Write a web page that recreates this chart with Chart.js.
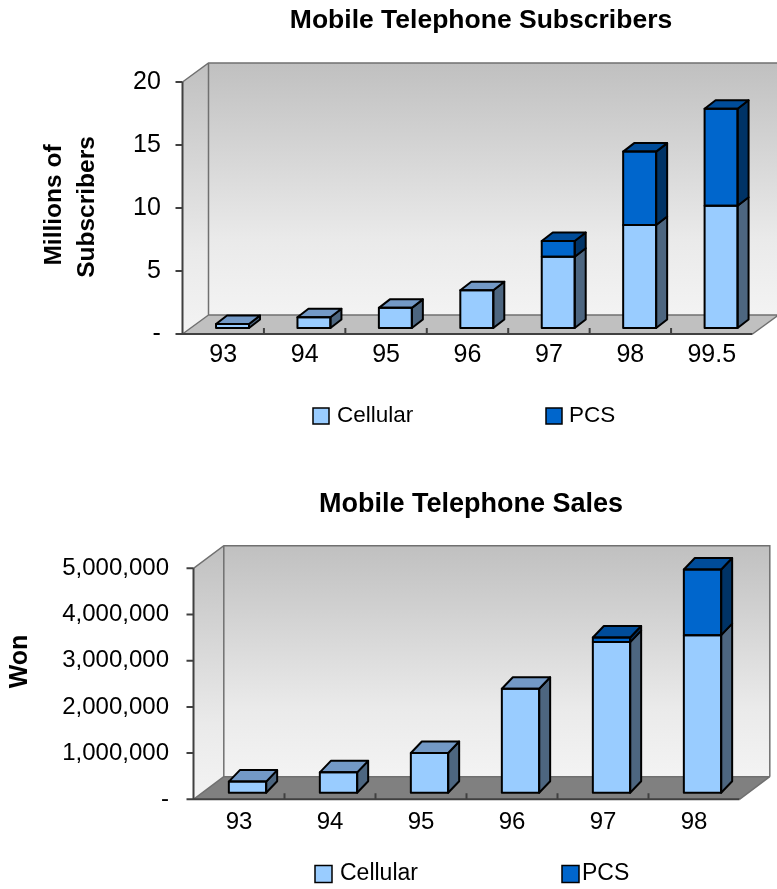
<!DOCTYPE html>
<html><head><meta charset="utf-8">
<script src="https://cdn.jsdelivr.net/npm/chart.js@4.4.1/dist/chart.umd.min.js"></script>
<style>
html,body{margin:0;padding:0;background:#fff;overflow:hidden;width:777px;height:889px;}
canvas{position:absolute;left:0;display:block;}
#c1{top:0}
#c2{top:445px}
</style></head><body>
<canvas id="c1" width="777" height="445"></canvas>
<canvas id="c2" width="777" height="444"></canvas>
<script>
// ---------- data ----------
const subsCategories = ['93', '94', '95', '96', '97', '98', '99.5'];
const subsCellular = [0.32, 0.85, 1.6, 3.0, 5.66, 8.17, 9.7];
const subsPCS = [0, 0, 0, 0, 1.24, 5.83, 7.7];
const subsTickMax = 20;
const subsTickStep = 5;

const salesCategories = ['93', '94', '95', '96', '97', '98'];
const salesCellular = [240000, 440000, 860000, 2250000, 3260000, 3410000];
const salesPCS = [0, 0, 0, 0, 100000, 1420000];
const salesTickMax = 5000000;
const salesTickStep = 1000000;

const seriesNames = ['Cellular', 'PCS'];

// ---------- styling ----------
const FONT = '"Liberation Sans", Arial, Helvetica, sans-serif';
const faceColors = [
  { front: '#99CCFF', top: '#7399C6', side: '#4D6680' },
  { front: '#0066CC', top: '#004C99', side: '#003366' }
];

const threeD = {
  id: 'threeD',
  beforeDatasetsDraw(chart, args, o) {
    const ctx = chart.ctx;
    const xs = chart.scales.x, ys = chart.scales.y;
    const ca = chart.chartArea;
    const T = ys.getPixelForValue(ys.max), B = ys.getPixelForValue(0);
    const fL = ca.left + o.front.dx, fR = ca.right + o.front.dx;
    const fT = T + o.front.dy, fB = B + o.front.dy;
    const bL = fL + o.floor.dx, bR = fR + o.floor.dx;
    const bT = fT + o.floor.dy, bB = fB + o.floor.dy;
    ctx.save();
    // back wall
    let g = ctx.createLinearGradient(0, bT, 0, bB);
    g.addColorStop(0, '#C0C0C0'); g.addColorStop(0.7, '#EAEAEA'); g.addColorStop(1, '#F3F3F3');
    ctx.fillStyle = g;
    ctx.fillRect(bL, bT, bR - bL, bB - bT);
    // left wall
    g = ctx.createLinearGradient(0, bT, 0, fB);
    g.addColorStop(0, '#C0C0C0'); g.addColorStop(0.7, '#EAEAEA'); g.addColorStop(1, '#F3F3F3');
    ctx.fillStyle = g;
    ctx.beginPath();
    ctx.moveTo(fL, fT); ctx.lineTo(bL, bT); ctx.lineTo(bL, bB); ctx.lineTo(fL, fB); ctx.closePath();
    ctx.fill();
    // floor
    ctx.fillStyle = o.floorColor;
    ctx.beginPath();
    ctx.moveTo(fL, fB); ctx.lineTo(bL, bB); ctx.lineTo(bR, bB); ctx.lineTo(fR, fB); ctx.closePath();
    ctx.fill();
    // edges
    ctx.strokeStyle = '#707070'; ctx.lineWidth = 1.5;
    ctx.beginPath();
    ctx.moveTo(fL, fT); ctx.lineTo(bL, bT); ctx.lineTo(bR, bT); ctx.lineTo(bR, bB);
    ctx.moveTo(bL, bT); ctx.lineTo(bL, bB); ctx.lineTo(bR, bB);
    ctx.moveTo(fL, fB); ctx.lineTo(bL, bB);
    ctx.moveTo(fR, fB); ctx.lineTo(bR, bB);
    ctx.stroke();
    ctx.strokeStyle = '#404040'; ctx.lineWidth = 2;
    ctx.beginPath();
    ctx.moveTo(fL, fT); ctx.lineTo(fL, fB); ctx.lineTo(fR, fB);
    // y ticks
    ys.ticks.forEach(t => {
      const py = ys.getPixelForValue(t.value) + o.front.dy;
      ctx.moveTo(fL - 7, py); ctx.lineTo(fL, py);
    });
    // x ticks at category boundaries
    for (let i = 1; i < xs.ticks.length; i++) {
      const px = (xs.getPixelForTick(i - 1) + xs.getPixelForTick(i)) / 2 + o.front.dx;
      ctx.moveTo(px, fB); ctx.lineTo(px, fB - 6);
    }
    ctx.stroke();
    ctx.restore();
  },
  afterDatasetsDraw(chart, args, o) {
    const ctx = chart.ctx;
    const n = chart.data.labels.length;
    const metas = chart.data.datasets.map((d, i) => chart.getDatasetMeta(i));
    ctx.save();
    ctx.lineJoin = 'round';
    ctx.strokeStyle = '#000'; ctx.lineWidth = 2;
    for (let i = 0; i < n; i++) {
      let topIdx = -1;
      chart.data.datasets.forEach((d, k) => { if (d.data[i] > 0) topIdx = k; });
      chart.data.datasets.forEach((d, k) => {
        if (!(d.data[i] > 0)) return;
        const el = metas[k].data[i];
        const w = el.width, l = el.x - w / 2, r = el.x + w / 2, y = el.y, b = el.base;
        const c = faceColors[k];
        // side
        ctx.fillStyle = c.side;
        ctx.beginPath();
        ctx.moveTo(r, y); ctx.lineTo(r + o.bar.dx, y + o.bar.dy);
        ctx.lineTo(r + o.bar.dx, b + o.bar.dy); ctx.lineTo(r, b); ctx.closePath();
        ctx.fill(); ctx.stroke();
        if (k === topIdx) {
          ctx.fillStyle = c.top;
          ctx.beginPath();
          ctx.moveTo(l, y); ctx.lineTo(l + o.bar.dx, y + o.bar.dy);
          ctx.lineTo(r + o.bar.dx, y + o.bar.dy); ctx.lineTo(r, y); ctx.closePath();
          ctx.fill(); ctx.stroke();
        }
        ctx.strokeRect(l, y, w, b - y);
      });
    }
    ctx.restore();
  },
  afterDraw(chart, args, o) {
    const ctx = chart.ctx;
    ctx.save();
    ctx.fillStyle = '#000';
    ctx.textAlign = 'center'; ctx.textBaseline = 'middle';
    ctx.font = 'bold ' + o.titleSize + 'px ' + FONT;
    ctx.fillText(o.title, o.titleX, o.titleY);
    // y title
    ctx.font = 'bold ' + o.yTitleSize + 'px ' + FONT;
    o.yTitle.forEach(t => {
      ctx.save();
      ctx.translate(t.x, t.y);
      ctx.rotate(-Math.PI / 2);
      ctx.fillText(t.text, 0, 0);
      ctx.restore();
    });
    // legend
    ctx.font = o.legendSize + 'px ' + FONT;
    ctx.textAlign = 'left';
    o.legend.forEach((it, k) => {
      ctx.fillStyle = faceColors[k].front;
      ctx.fillRect(it.bx, o.legendY - it.bs / 2, it.bs, it.bs);
      ctx.strokeStyle = '#000'; ctx.lineWidth = 1.5;
      ctx.strokeRect(it.bx, o.legendY - it.bs / 2, it.bs, it.bs);
      ctx.fillStyle = '#000';
      ctx.fillText(seriesNames[k], it.tx, o.legendY);
    });
    ctx.restore();
  }
};

function makeChart(id, H, cats, cell, pcs, yMax, yStep, fmt, g) {
  const W = 777;
  return new Chart(document.getElementById(id), {
    type: 'bar',
    data: {
      labels: cats,
      datasets: [
        { label: seriesNames[0], data: cell, backgroundColor: faceColors[0].front, borderWidth: 0 },
        { label: seriesNames[1], data: pcs, backgroundColor: faceColors[1].front, borderWidth: 0 }
      ]
    },
    options: {
      responsive: false,
      animation: false,
      devicePixelRatio: 1,
      layout: { padding: { left: 0, right: W - g.plane.right, top: g.plane.top, bottom: 0 } },
      datasets: { bar: { barPercentage: g.barPct, categoryPercentage: 1 } },
      plugins: {
        legend: { display: false },
        title: { display: false },
        tooltip: { enabled: false },
        threeD: g
      },
      scales: {
        x: {
          stacked: true,
          grid: { display: false, drawTicks: false },
          border: { display: false },
          ticks: { color: '#000', font: { family: FONT, size: g.tickSize }, padding: g.xPad, labelOffset: g.front.dx, maxRotation: 0 },
          afterFit: s => { s.height = H - g.plane.bottom; }
        },
        y: {
          stacked: true,
          min: 0, max: yMax,
          grid: { display: false, drawTicks: false },
          border: { display: false },
          ticks: { stepSize: yStep, color: '#000', font: { family: FONT, size: g.tickSize }, padding: g.yPad, labelOffset: g.front.dy, callback: fmt },
          afterFit: s => { s.width = g.plane.left; }
        }
      }
    },
    plugins: [threeD]
  });
}

makeChart('c1', 445, subsCategories, subsCellular, subsPCS, subsTickMax, subsTickStep,
  v => v === 0 ? '-' : String(v),
  {
    plane: { left: 191.8, right: 761.8, top: 76, bottom: 328 },
    front: { dx: -9.3, dy: 6 }, floor: { dx: 26, dy: -19 }, bar: { dx: 11, dy: -8.5 },
    barPct: 0.405, floorColor: '#C0C0C0',
    tickSize: 25, xPad: 12, yPad: 31,
    title: 'Mobile Telephone Subscribers', titleX: 481, titleY: 21, titleSize: 26.5,
    yTitle: [{ text: 'Millions of', x: 54, y: 205 }, { text: 'Subscribers', x: 87, y: 207 }], yTitleSize: 24.5,
    legendY: 416, legendSize: 22.5,
    legend: [{ bx: 313, bs: 16, tx: 337 }, { bx: 546, bs: 16, tx: 569 }]
  });

makeChart('c2', 444, salesCategories, salesCellular, salesPCS, salesTickMax, salesTickStep,
  v => v === 0 ? '-' : v.toLocaleString('en-US'),
  {
    plane: { left: 202, right: 748, top: 116.7, bottom: 347.7 },
    front: { dx: -8.5, dy: 6.6 }, floor: { dx: 30.3, dy: -22.6 }, bar: { dx: 11, dy: -11.5 },
    barPct: 0.41, floorColor: '#808080',
    tickSize: 24, xPad: 15, yPad: 33,
    title: 'Mobile Telephone Sales', titleX: 471, titleY: 60, titleSize: 27,
    yTitle: [{ text: 'Won', x: 20, y: 216.5 }], yTitleSize: 25,
    legendY: 429, legendSize: 23,
    legend: [{ bx: 315, bs: 17, tx: 340 }, { bx: 562, bs: 17, tx: 582 }]
  });
</script>
</body></html>
